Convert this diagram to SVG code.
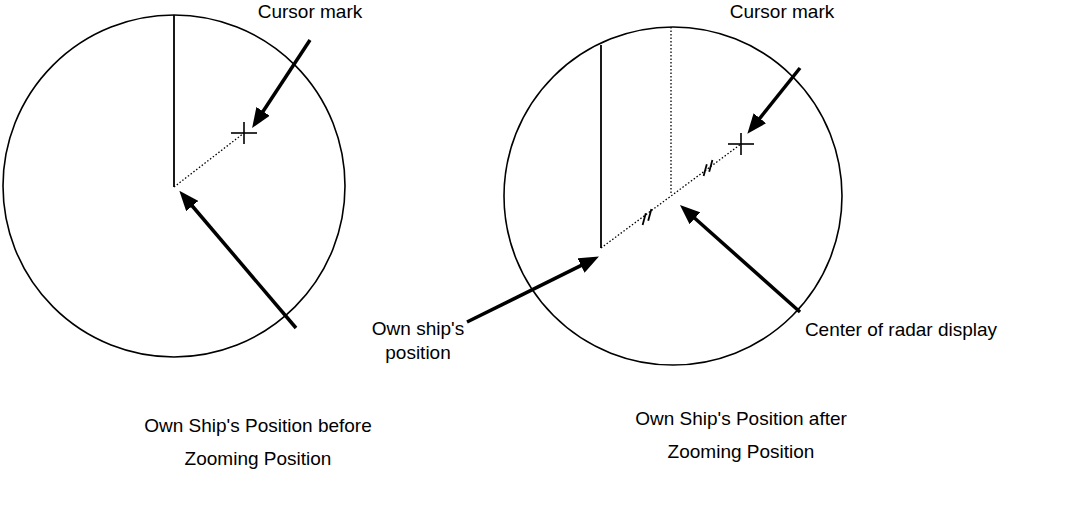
<svg xmlns="http://www.w3.org/2000/svg" width="1065" height="506" viewBox="0 0 1065 506">
<style>
.circle{fill:none;stroke:#000;stroke-width:1.6}
.solid{stroke:#000;stroke-width:1.8;fill:none}
.dot{stroke:#000;stroke-width:1.3;stroke-dasharray:1.5 2;fill:none}
.cross{stroke:#000;stroke-width:1.6}
.arrow{stroke:#000;stroke-width:3.5;fill:none;marker-end:url(#ah)}
.brk{stroke:#000;stroke-width:1.8}
text{font-family:"Liberation Sans",Arial,sans-serif;font-size:19px;fill:#000}
</style>
<defs>
<marker id="ah" markerUnits="userSpaceOnUse" markerWidth="20" markerHeight="16" refX="2" refY="8" orient="auto">
<path d="M0,0 L20,8 L0,16 z" fill="#000"/>
</marker>
</defs>
<rect width="1065" height="506" fill="#fff"/>
<g id="left-display">
<circle class="circle" cx="174" cy="186" r="171"/>
<line class="solid" x1="174" y1="15" x2="174" y2="187"/>
<line class="dot" x1="174" y1="187" x2="244" y2="133"/>
<line class="cross" x1="231" y1="133" x2="257" y2="133"/>
<line class="cross" x1="244" y1="122" x2="244" y2="144"/>
</g>
<g id="right-display">
<circle class="circle" cx="673" cy="196" r="169"/>
<line class="solid" x1="601" y1="45" x2="601" y2="248"/>
<line class="dot" x1="671" y1="27" x2="671" y2="195"/>
<line class="dot" x1="601" y1="248" x2="741" y2="144"/>
<line class="cross" x1="728" y1="144" x2="754" y2="144"/>
<line class="cross" x1="741" y1="133" x2="741" y2="155"/>
<line class="brk" x1="642.6" y1="224.9" x2="645.8" y2="213.3"/>
<line class="brk" x1="648.2" y1="220.7" x2="651.4" y2="209.1"/>
<line class="brk" x1="703.6" y1="175.9" x2="706.8" y2="164.3"/>
<line class="brk" x1="709.2" y1="171.7" x2="712.4" y2="160.1"/>
</g>
<g id="connectors">
<line class="arrow" x1="310" y1="40" x2="262" y2="113"/>
<line class="arrow" x1="296" y1="328" x2="191" y2="204.5"/>
<line class="arrow" x1="467" y1="322" x2="582.8" y2="264.6"/>
<line class="arrow" x1="800" y1="68" x2="758.6" y2="119.8"/>
<line class="arrow" x1="800" y1="312" x2="693.4" y2="217"/>
</g>
<g id="label-cursor-left"><text x="310" y="18" text-anchor="middle">Cursor mark</text></g>
<g id="label-cursor-right"><text x="782" y="18" text-anchor="middle">Cursor mark</text></g>
<g id="label-own-ship"><text x="418" y="335" text-anchor="middle">Own ship's</text><text x="418" y="359" text-anchor="middle">position</text></g>
<g id="label-center"><text x="901" y="336" text-anchor="middle">Center of radar display</text></g>
<g id="caption-left"><text x="258" y="432" text-anchor="middle">Own Ship's Position before</text><text x="258" y="465" text-anchor="middle">Zooming Position</text></g>
<g id="caption-right"><text x="741" y="425" text-anchor="middle">Own Ship's Position after</text><text x="741" y="458" text-anchor="middle">Zooming Position</text></g>
</svg>
